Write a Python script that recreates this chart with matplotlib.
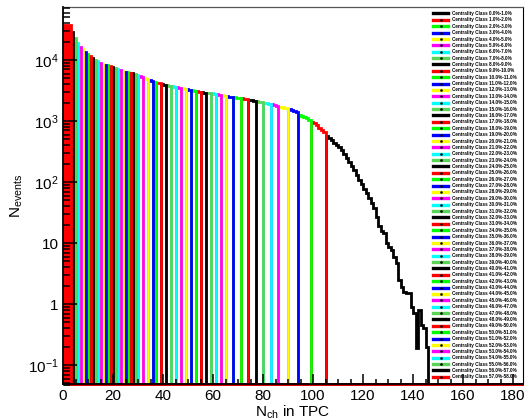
import numpy as np
import matplotlib
matplotlib.use("Agg")
import matplotlib.pyplot as plt
from matplotlib.lines import Line2D
from matplotlib.ticker import MultipleLocator, LogLocator, NullFormatter

# events per Nch bin (bin width 1, starting at 0)
counts = [37500, 37500, 37000, 28800, 22900, 19000, 16300, 15100, 13500, 12500,
          11600, 10800, 10000, 9500, 9100, 8700, 8400, 8200, 7900, 7650,
          7420, 7200, 6950, 6700, 6480, 6300, 6150, 6020, 5900, 5750,
          5550, 5300, 5000, 4820, 4650, 4500, 4380, 4250, 4130, 4020,
          3930, 3850, 3770, 3700, 3620, 3550, 3480, 3420, 3360, 3300,
          3240, 3180, 3120, 3060, 3000, 2960, 2920, 2890, 2860, 2830,
          2800, 2770, 2720, 2660, 2600, 2560, 2520, 2490, 2460, 2420,
          2390, 2350, 2310, 2270, 2230, 2190, 2150, 2110, 2070, 2030,
          1990, 1950, 1910, 1870, 1820, 1780, 1730, 1690, 1650, 1610,
          1560, 1520, 1480, 1430, 1260, 1210, 1160, 1110, 1060, 980,
          920, 850, 780, 720, 660, 560, 520, 480, 445, 410,
          380, 330, 290, 250, 215, 185, 155, 130, 110, 92,
          78, 66, 55, 46, 38, 27, 19, 15.5, 14.5, 10,
          8.5, 7.7, 6, 4.7, 2.5, 1.9, 1.6, 1.5, 1.5, 0.89,
          0.71, 0.19, 0.8, 0.45, 0.4, 0.2]

# lower Nch edge of each centrality class, class 0 (0-1%) first
class_low = [105, 99, 94, 90, 86, 83, 80, 77, 74, 71,
             68, 65, 63, 61, 59, 57, 55, 53, 51, 49,
             47, 45, 43, 41, 39, 37, 36, 34, 32, 30,
             29, 28, 27, 26, 25, 24, 23, 22, 21, 20,
             19, 18, 17, 16, 15, 14, 13, 12, 11, 10,
             9, 8, 7, 6, 5, 4, 3, 0]

class_colors = ["#000000", "#ff0000", "#00ff00", "#0000ff",
                "#ffff00", "#ff00ff", "#00ffff", "#59d454"]
class_labels = ["Centrality Class %.1f%%-%.1f%%" % (i, i + 1) for i in range(len(class_low))]

nbins_axis = 184
ymin, ymax = 0.049, 7.4e4

plt.rcParams["font.family"] = ["Liberation Sans", "DejaVu Sans"]
plt.rcParams["mathtext.fontset"] = "custom"
plt.rcParams["mathtext.rm"] = "Liberation Sans"
plt.rcParams["mathtext.it"] = "Liberation Sans"
plt.rcParams["mathtext.default"] = "regular"

h = np.zeros(nbins_axis)
h[:len(counts)] = counts
edges = np.arange(nbins_axis + 1)

fig = plt.figure(figsize=(5.28, 4.2), dpi=100)
ax = fig.add_axes([63 / 528, 1 - 384 / 420, 460 / 528, 377 / 420])
ax.set_yscale("log")

handles = []
for i, lo in enumerate(class_low):
    hi = class_low[i - 1] if i > 0 else len(counts)
    col = class_colors[i % 8]
    vals = np.full(nbins_axis, ymin)
    vals[lo:hi] = h[lo:hi]
    ax.stairs(vals, edges, baseline=None, color=col, lw=2, clip_on=False)
    if i == len(class_low) - 1:
        ax.stairs(h[lo:hi], edges[lo:hi + 1], baseline=ymin, fill=True, color=col)
    handles.append(Line2D([], [], color=col, lw=2.4, marker="s", ms=0.8,
                          mfc="k", mec="k"))

ax.set_xlim(0, nbins_axis)
ax.set_ylim(ymin, ymax)
ax.set_axisbelow(False)

ax.xaxis.set_major_locator(MultipleLocator(20))
ax.xaxis.set_minor_locator(MultipleLocator(5))
ax.set_yticks([0.1, 1, 10, 100, 1e3, 1e4])
ax.set_yticklabels(["$10^{-1}$", "1", "10", "$10^{2}$", "$10^{3}$", "$10^{4}$"])
ax.yaxis.set_minor_locator(LogLocator(base=10, subs=np.arange(2, 10)))
ax.yaxis.set_minor_formatter(NullFormatter())

ax.tick_params(axis="both", which="both", direction="in", top=False, right=False,
               labelsize=11, width=1.1)
ax.tick_params(axis="y", which="major", length=10, pad=3)
ax.tick_params(axis="y", which="minor", length=5)
ax.tick_params(axis="x", which="major", length=7.5, pad=3.5)
ax.tick_params(axis="x", which="minor", length=3.8)

for side in ["left", "bottom"]:
    ax.spines[side].set_linewidth(1.3)
ax.spines["top"].set_linewidth(0.9)
ax.spines["top"].set_color("#555555")
ax.spines["right"].set_linewidth(0.8)

ax.set_xlabel("$N_{ch}$ in TPC", fontsize=11)
ax.xaxis.set_label_coords(0.5, -0.051)
ax.set_ylabel("$N_{events}$", fontsize=11)
ax.yaxis.set_label_coords(-0.083, 0.5)

ax.legend(handles, class_labels, loc="upper left",
          bbox_to_anchor=(433 / 528, 1 - 11 / 420), bbox_transform=fig.transFigure,
          frameon=False, prop={"size": 3.3, "weight": "bold"},
          handlelength=3.3, handletextpad=0.9, labelspacing=0.3,
          borderpad=0, borderaxespad=0, numpoints=1)

fig.savefig("out.png", dpi=100)
